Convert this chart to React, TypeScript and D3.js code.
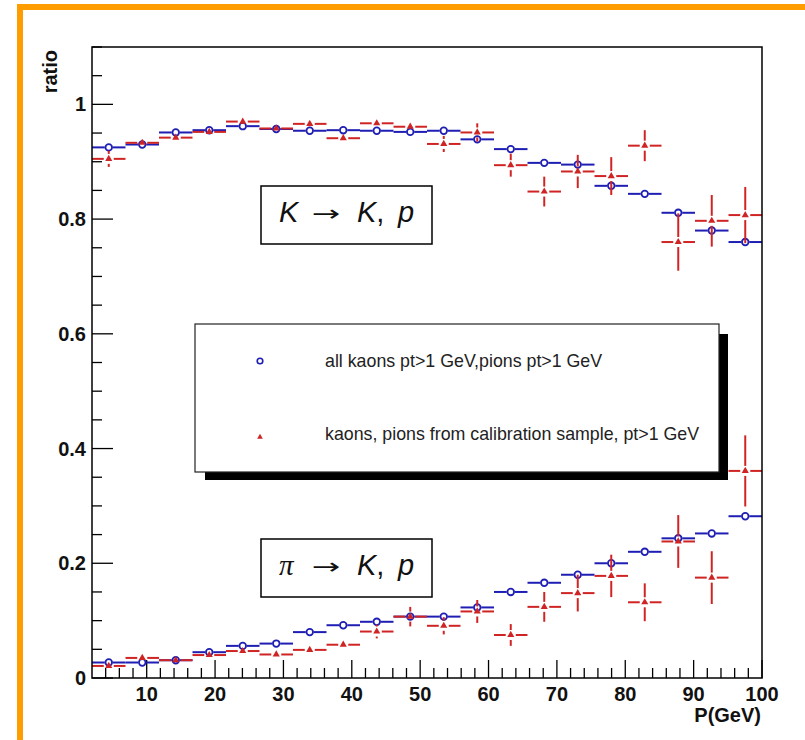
import { useEffect, useRef } from "react";
import * as d3 from "d3";

// bin centres (20 bins from 2 to 100 GeV)
const pCenters = [4.45, 9.35, 14.25, 19.15, 24.05, 28.95, 33.85, 38.75, 43.65, 48.55, 53.45, 58.35, 63.25, 68.15, 73.05, 77.95, 82.85, 87.75, 92.65, 97.55];
const binHalfWidth = 2.45;

// K -> K,p
const kAll = [0.925, 0.93, 0.951, 0.955, 0.962, 0.957, 0.954, 0.955, 0.954, 0.952, 0.954, 0.939, 0.922, 0.898, 0.895, 0.858, 0.844, 0.811, 0.78, 0.76];
const kAllErr = [0.003, 0.002, 0.002, 0.002, 0.002, 0.002, 0.002, 0.002, 0.002, 0.003, 0.003, 0.003, 0.003, 0.004, 0.004, 0.004, 0.005, 0.005, 0.006, 0.007];
const kCalib = [0.905, 0.933, 0.942, 0.952, 0.97, 0.958, 0.966, 0.941, 0.967, 0.961, 0.931, 0.951, 0.894, 0.848, 0.883, 0.875, 0.928, 0.76, 0.797, 0.807];
const kCalibErr = [0.014, 0.004, 0.004, 0.004, 0.006, 0.004, 0.006, 0.006, 0.006, 0.007, 0.014, 0.016, 0.02, 0.026, 0.029, 0.033, 0.027, 0.05, 0.045, 0.049];

// pi -> K,p
const piAll = [0.027, 0.027, 0.031, 0.045, 0.056, 0.06, 0.08, 0.092, 0.098, 0.107, 0.107, 0.123, 0.15, 0.166, 0.18, 0.2, 0.22, 0.2435, 0.252, 0.282];
const piAllErr = [0.002, 0.002, 0.002, 0.002, 0.002, 0.002, 0.002, 0.002, 0.002, 0.003, 0.003, 0.003, 0.003, 0.003, 0.004, 0.004, 0.004, 0.005, 0.005, 0.006];
const piCalib = [0.021, 0.035, 0.031, 0.04, 0.047, 0.041, 0.049, 0.058, 0.081, 0.107, 0.091, 0.116, 0.075, 0.124, 0.148, 0.178, 0.132, 0.238, 0.175, 0.361];
const piCalibErr = [0.004, 0.004, 0.004, 0.004, 0.004, 0.004, 0.005, 0.006, 0.012, 0.017, 0.015, 0.02, 0.019, 0.026, 0.032, 0.037, 0.033, 0.046, 0.046, 0.062];

const yTickLabels = ["0", "0.2", "0.4", "0.6", "0.8", "1"];
const xTickLabels = ["10", "20", "30", "40", "50", "60", "70", "80", "90", "100"];
const legendLabels = ["all kaons pt>1 GeV,pions pt>1 GeV", "kaons, pions from calibration sample, pt>1 GeV"];

const BLUE = "#1e1eb4";
const RED = "#d02424";
const FONT = "'Liberation Sans', Arial, sans-serif";

function App() {
  const ref = useRef<SVGSVGElement>(null);

  useEffect(() => {
    const svg = d3.select(ref.current);
    svg.selectAll("*").remove();

    const x = d3.scaleLinear().domain([2, 100]).range([92, 762]);
    const y = d3.scaleLinear().domain([0, 1.1]).range([678, 47]);

    // orange frame
    svg.append("rect").attr("x", 20).attr("y", 7).attr("width", 820).attr("height", 800)
      .attr("fill", "none").attr("stroke", "#ff9c00").attr("stroke-width", 6);

    // y ticks
    const yMinor = d3.range(0, 1.1001, 0.05);
    svg.append("g").selectAll("line").data(yMinor).join("line")
      .attr("x1", x(2)).attr("x2", (d) => x(2) + (Math.round(d * 100) % 20 === 0 ? 21 : 10))
      .attr("y1", (d) => y(d)).attr("y2", (d) => y(d))
      .attr("stroke", "#000").attr("stroke-width", 1.3);
    svg.append("g").selectAll("text").data(yTickLabels).join("text")
      .attr("x", 86).attr("y", (d) => y(+d) + 7).attr("text-anchor", "end")
      .attr("font-family", FONT).attr("font-weight", "bold").attr("font-size", 20).attr("fill", "#111")
      .text((d) => d);

    // x ticks
    const xMinor = d3.range(4, 100.001, 2);
    svg.append("g").selectAll("line").data(xMinor).join("line")
      .attr("x1", (d) => x(d)).attr("x2", (d) => x(d))
      .attr("y1", y(0)).attr("y2", (d) => y(0) - (Math.round(d) % 10 === 0 ? 18 : 10))
      .attr("stroke", "#000").attr("stroke-width", 1.3);
    svg.append("g").selectAll("text").data(xTickLabels).join("text")
      .attr("x", (d) => x(+d)).attr("y", 701).attr("text-anchor", "middle")
      .attr("font-family", FONT).attr("font-weight", "bold").attr("font-size", 20).attr("fill", "#111")
      .text((d) => d);

    // axis titles
    svg.append("text").attr("transform", "translate(57,50) rotate(-90)").attr("text-anchor", "end")
      .attr("font-family", FONT).attr("font-weight", "bold").attr("font-size", 20).attr("fill", "#111")
      .text("ratio");
    svg.append("text").attr("x", 761).attr("y", 722).attr("text-anchor", "end")
      .attr("font-family", FONT).attr("font-weight", "bold").attr("font-size", 20).attr("fill", "#111")
      .text("P(GeV)");

    // data series
    const drawSeries = (vals: number[], errs: number[], color: string, kind: "circle" | "triangle") => {
      const g = svg.append("g");
      const gap = kind === "circle" ? 4 : 5;
      const pts = vals.map((v, i) => ({ c: pCenters[i], v, e: errs[i] }));
      // horizontal bars
      g.selectAll("line.hl").data(pts).join("line").attr("class", "hl")
        .attr("x1", (d) => x(d.c - binHalfWidth)).attr("x2", (d) => x(d.c) - gap)
        .attr("y1", (d) => y(d.v)).attr("y2", (d) => y(d.v))
        .attr("stroke", color).attr("stroke-width", 2);
      g.selectAll("line.hr").data(pts).join("line").attr("class", "hr")
        .attr("x1", (d) => x(d.c) + gap).attr("x2", (d) => x(d.c + binHalfWidth))
        .attr("y1", (d) => y(d.v)).attr("y2", (d) => y(d.v))
        .attr("stroke", color).attr("stroke-width", 2);
      // vertical bars
      const vis = pts.filter((d) => y(d.v - d.e) - y(d.v) > gap);
      g.selectAll("line.vu").data(vis).join("line").attr("class", "vu")
        .attr("x1", (d) => x(d.c)).attr("x2", (d) => x(d.c))
        .attr("y1", (d) => y(d.v + d.e)).attr("y2", (d) => y(d.v) - gap)
        .attr("stroke", color).attr("stroke-width", 2);
      g.selectAll("line.vd").data(vis).join("line").attr("class", "vd")
        .attr("x1", (d) => x(d.c)).attr("x2", (d) => x(d.c))
        .attr("y1", (d) => y(d.v) + gap).attr("y2", (d) => y(d.v - d.e))
        .attr("stroke", color).attr("stroke-width", 2);
      if (kind === "circle") {
        g.selectAll("circle").data(pts).join("circle")
          .attr("cx", (d) => x(d.c)).attr("cy", (d) => y(d.v)).attr("r", 3.3)
          .attr("fill", "none").attr("stroke", color).attr("stroke-width", 1.8);
      } else {
        g.selectAll("path").data(pts).join("path")
          .attr("transform", (d) => `translate(${x(d.c)},${y(d.v)})`)
          .attr("d", d3.symbol(d3.symbolTriangle, 22)())
          .attr("fill", color);
      }
    };
    drawSeries(kAll, kAllErr, BLUE, "circle");
    drawSeries(piAll, piAllErr, BLUE, "circle");
    drawSeries(kCalib, kCalibErr, RED, "triangle");
    drawSeries(piCalib, piCalibErr, RED, "triangle");

    // frame
    svg.append("rect").attr("x", x(2)).attr("y", y(1.1)).attr("width", x(100) - x(2)).attr("height", y(0) - y(1.1))
      .attr("fill", "none").attr("stroke", "#000").attr("stroke-width", 1.5);

    // label boxes
    const labelBox = (by: number, first: string, firstFont: string) => {
      svg.append("rect").attr("x", 261).attr("y", by).attr("width", 171).attr("height", 58)
        .attr("fill", "#fff").attr("stroke", "#000").attr("stroke-width", 1.5);
      const t = svg.append("text").attr("y", by + 36)
        .attr("font-family", FONT).attr("font-size", 29).attr("fill", "#111");
      t.append("tspan").attr("x", 279).attr("font-style", "italic").attr("font-family", firstFont).text(first);
      t.append("tspan").attr("x", 357).attr("font-style", "italic").text("K");
      t.append("tspan").text(",");
      t.append("tspan").attr("x", 398).attr("font-style", "italic").text("p");
      svg.append("text").attr("transform", `translate(312,${by + 35}) scale(1.55,1)`)
        .attr("font-family", "'DejaVu Sans', sans-serif").attr("font-size", 22).attr("fill", "#111")
        .text("\u2192");
    };
    labelBox(186, "K", FONT);
    labelBox(539, "\u03c0", "'Liberation Serif', serif");

    // legend
    svg.append("rect").attr("x", 205).attr("y", 334).attr("width", 523).attr("height", 146).attr("fill", "#000");
    svg.append("rect").attr("x", 195).attr("y", 324).attr("width", 524).attr("height", 148)
      .attr("fill", "#fff").attr("stroke", "#222").attr("stroke-width", 1.2);
    svg.append("circle").attr("cx", 260).attr("cy", 361).attr("r", 2.8)
      .attr("fill", "none").attr("stroke", BLUE).attr("stroke-width", 1.6);
    svg.append("path").attr("transform", "translate(260,437)")
      .attr("d", d3.symbol(d3.symbolTriangle, 14)()).attr("fill", RED);
    svg.append("g").selectAll("text").data(legendLabels).join("text")
      .attr("x", 325).attr("y", (d, i) => (i === 0 ? 367 : 440))
      .attr("font-family", FONT).attr("font-size", 17.8).attr("fill", "#222")
      .text((d) => d);
  }, []);

  return (
    <>
      <style>{`body{margin:0;background:#fff}`}</style>
      <svg ref={ref} width={805} height={740} style={{ display: "block", background: "#fff" }} />
    </>
  );
}

export default App;
